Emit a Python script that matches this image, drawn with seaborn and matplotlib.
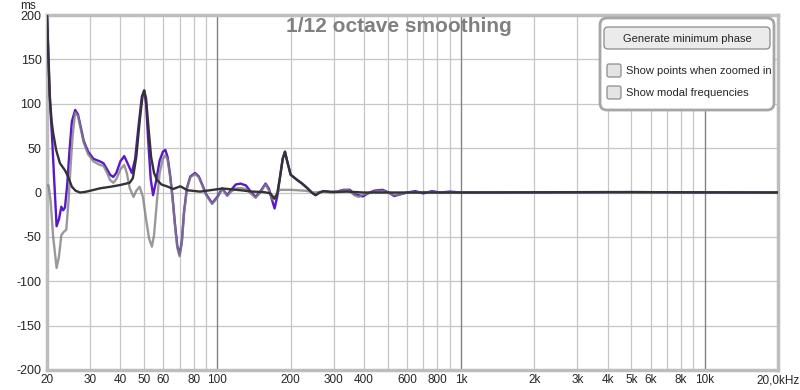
import numpy as np
import pandas as pd
import matplotlib
matplotlib.use('Agg')
import matplotlib.pyplot as plt
import seaborn as sns
from matplotlib.patches import FancyBboxPatch
from matplotlib.ticker import FixedLocator, NullFormatter

# group delay (purple)
gd_freq = [20, 20.3, 20.6, 21, 21.4, 21.9, 22.4, 22.9, 23.3, 23.7,
           24.2, 24.7, 25.3, 26.1, 26.8, 27.6, 28.3, 29.5, 31, 33,
           34.1, 35.3, 36.3, 37.4, 38.5, 40, 41.5, 42.8, 44.6, 46,
           47.5, 49, 50.1, 51, 52, 53.3, 54.5, 56, 58, 59.8,
           61.2, 62.5, 64, 65.5, 67, 68.5, 70, 71.5, 73, 75,
           77.5, 81, 84, 87, 90, 95.2, 100, 104.7, 109.8, 114,
           119, 124.5, 131, 137, 143.6, 150, 157.8, 163, 167.5, 171.8,
           176, 181, 185.5, 189.5, 194, 200, 213, 223, 234, 244,
           253, 263, 273, 290, 310, 330, 350, 365, 380, 395,
           415, 440, 477, 505, 532, 565, 600, 650, 700, 760,
           820, 900, 1000, 1500, 2000, 3000, 5000, 10000, 20000]
gd_ms = [200, 150, 100, 60, 15, -38, -30, -16, -20, -17,
         8, 45, 80, 93, 88, 72, 58, 46, 38, 35,
         33, 26, 20, 17.5, 22, 35, 41, 33, 22, 38,
         75, 108, 115, 100, 60, 15, -3, 12, 36, 46,
         48, 40, 20, -5, -35, -60, -70, -55, -22, 5,
         18, 22, 18, 8, -2, -12, -5, 4.7, -3, 3,
         9, 10, 8, 1, -5, 1, 10, 4, -8, -18,
         -5, 18, 38, 46, 34, 20, 14, 10, 5, 0,
         -3, 0, 1.5, 0.5, 1, 3, 3, -2, -3, -4.5,
         -1, 2, 3, 0, -4, -2, 0, 1.5, -1, 1.5,
         0, 1, 0, 0, 0, 0, 0.5, 0, 0]

# minimum phase group delay (grey)
mp_freq = [20, 20.3, 20.7, 21.2, 21.9, 22.4, 22.9, 23.5, 24, 24.5,
           25, 25.5, 26.1, 26.8, 27.6, 28.3, 29.5, 31, 33, 34.1,
           35.3, 36.3, 37.4, 38.5, 40, 41.5, 42.5, 43.7, 45.3, 46.5,
           48, 49.5, 51, 52.5, 53.9, 55, 56.5, 58, 59.8, 61.2,
           62.5, 64, 65.5, 67, 68.5, 70, 71.5, 73, 75, 77.5,
           81, 84, 87, 90, 95.2, 100, 104.7, 109.8, 114, 119,
           124.5, 131, 137, 143.6, 150, 157.8, 163, 168, 174, 180,
           200, 230, 250, 273, 300, 320, 345, 365, 380, 400,
           440, 477, 505, 532, 565, 600, 700, 800, 1000, 20000]
mp_ms = [8, 8, -10, -50, -85, -72, -48, -44, -42, -10,
         30, 65, 90, 86, 70, 56, 43, 35, 31, 30,
         22, 14, 11, 15, 26, 31, 22, 5, -5, 2,
         6.5, -5, -30, -52, -61, -48, -10, 22, 38, 42,
         37, 18, -7, -37, -62, -72, -57, -24, 4, 17,
         21, 17, 7, -3, -13, -6, 4, -4, 1, 4.5,
         5, 4, -1, -6, 0, 9, 2, -8, -3, 3,
         3, 2, 0, 1, 0, 2, 3, -3, -5, -2,
         1, 2, 0, -3, -2, 0, 0.5, 0, 0, 0]

# excess group delay (dark)
ex_freq = [20, 20.2, 20.5, 20.9, 21.2, 21.8, 22.6, 23.7, 24.4, 25.3,
           26.2, 27.3, 28.5, 30.1, 33, 36.5, 40, 43.7, 45, 46.5,
           48, 49.3, 50.1, 51, 52.3, 53.5, 55, 56.6, 59, 62,
           66, 70.5, 75.5, 85, 96, 105, 115, 125, 140, 155,
           165, 171.8, 176, 181, 185.5, 189.5, 194, 200, 213, 223,
           234, 244, 253, 263, 273, 300, 340, 400, 500, 1000,
           4000, 20000]
ex_ms = [200, 165, 110, 80, 67, 48, 33, 25, 18, 6.5,
         2, 0, 0.5, 2, 4.7, 6.5, 8.5, 11, 16, 40,
         80, 108, 115, 106, 70, 40, 22, 14, 9, 7,
         4, 7, 2.5, 1, 3, 4.5, 3.5, 2.5, 1, 0.5,
         -1, -7, -2, 18, 38, 46, 34, 20, 14, 10,
         5, 0, -3, 0, 1.5, 0.5, 1, 0, 0, 0,
         0.5, 0]

x_ticks = [20, 30, 40, 50, 60, 80, 100, 200, 300, 400, 600, 800, 1000,
           2000, 3000, 4000, 5000, 6000, 8000, 10000, 20000]
x_labels = ['20', '30', '40', '50', '60', '80', '100', '200', '300', '400',
            '600', '800', '1k', '2k', '3k', '4k', '5k', '6k', '8k', '10k',
            '20,0kHz']
y_ticks = [-200, -150, -100, -50, 0, 50, 100, 150, 200]

sns.set_theme(style='white')
plt.rcParams['font.family'] = ['Liberation Sans', 'DejaVu Sans']

fig = plt.figure(figsize=(8, 3.9), dpi=100)
ax = fig.add_axes([47 / 800, 20 / 390, 731 / 800, 355 / 390])

curves = [(gd_freq, gd_ms, '#5b17c8', 1.0),
          (mp_freq, mp_ms, '#808080', 0.8),
          (ex_freq, ex_ms, '#333333', 1.0)]
for f, v, c, a in curves:
    sns.lineplot(x=f, y=v, ax=ax, color=c, lw=1.7, alpha=a,
                 estimator=None, sort=False, zorder=3)

ax.set_xscale('log')
ax.set_xlim(20, 20000)
ax.set_ylim(-200, 200)
ax.set_xlabel('')
ax.set_ylabel('')

minor = [m * 10 ** k for k in (1, 2, 3) for m in range(2, 11)]
ax.xaxis.set_minor_locator(FixedLocator(minor))
ax.xaxis.set_minor_formatter(NullFormatter())
ax.xaxis.set_major_locator(FixedLocator(x_ticks))
ax.set_xticklabels(x_labels)
ax.set_yticks(y_ticks)
ax.set_yticklabels([str(t) for t in y_ticks])
ax.tick_params(which='both', length=0)
ax.tick_params(axis='x', labelsize=8.5, pad=3)
ax.tick_params(axis='y', labelsize=9, pad=4)

ax.grid(which='both', axis='x', color='#c6c6c6', lw=0.9, zorder=0)
ax.grid(which='major', axis='y', color='#c6c6c6', lw=0.9, zorder=0)
for d in (100, 1000, 10000):
    ax.axvline(d, color='#808080', lw=0.9, zorder=1)
for s in ax.spines.values():
    s.set_color('#bdbdbd')
    s.set_linewidth(2.5)

fig.text(20 / 800, 1 - 6 / 390, 'ms', fontsize=8.5, va='center', ha='left')

# overlay in pixel coordinates for the title and the control panel
ov = fig.add_axes([0, 0, 1, 1], zorder=5)
ov.set_xlim(0, 800)
ov.set_ylim(390, 0)
ov.axis('off')
ov.patch.set_alpha(0)

ov.text(399, 27, '1/12 octave smoothing', ha='center', va='center',
        fontsize=15, fontweight='bold', color='#808080')

ov.add_patch(FancyBboxPatch((600, 18), 174, 92,
                            boxstyle='round,pad=0,rounding_size=7',
                            fc='white', ec='#a6a6a6', lw=2))
ov.add_patch(FancyBboxPatch((604, 27), 166, 22,
                            boxstyle='round,pad=0,rounding_size=4',
                            fc='#ebebeb', ec='#8a8a8a', lw=0.9))
ov.text(687, 38.5, 'Generate minimum phase', ha='center', va='center', fontsize=8)
for yy, label in ((64, 'Show points when zoomed in'), (86, 'Show modal frequencies')):
    ov.add_patch(FancyBboxPatch((607, yy), 14, 13,
                                boxstyle='round,pad=0,rounding_size=2',
                                fc='#e4e4e4', ec='#8c8c8c', lw=0.9))
    ov.text(626, yy + 7, label, ha='left', va='center', fontsize=8)

fig.savefig('out.png', dpi=100, facecolor='white')
